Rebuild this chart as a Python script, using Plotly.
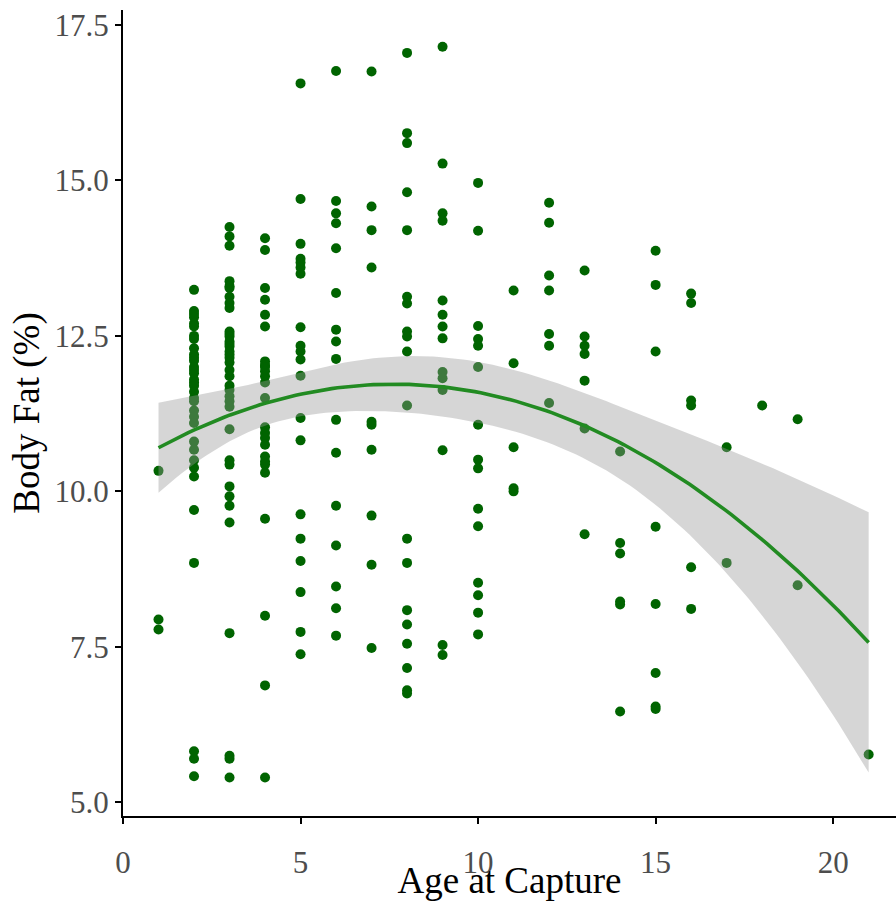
import numpy as np
import plotly.graph_objects as go

# ---- data: age at capture (x) and body fat % (y), grouped by age ----
age_groups = [1, 2, 3, 4, 5, 6, 7, 8, 9, 10, 11, 12, 13, 14, 15, 16, 17, 18, 19, 21]
fat_by_age = [
    [10.33, 7.94, 7.78],
    [13.24, 12.9, 12.85, 12.8, 12.7, 12.65, 12.5, 12.45, 12.3, 12.2, 12.15, 12.1, 12.0,
     11.95, 11.9, 11.8, 11.75, 11.7, 11.6, 11.5, 11.45, 11.3, 11.2, 11.1, 10.8, 10.67,
     10.5, 10.38, 10.24, 9.7, 8.85, 5.82, 5.7, 5.42],
    [14.25, 14.1, 13.95, 13.38, 13.3, 13.27, 13.13, 13.03, 12.95, 12.57, 12.53, 12.49,
     12.41, 12.37, 12.33, 12.25, 12.2, 12.15, 12.07, 11.95, 11.85, 11.7, 11.63, 11.53,
     11.45, 11.36, 11.0, 10.5, 10.43, 10.08, 9.92, 9.77, 9.5, 7.72, 5.75, 5.7, 5.4],
    [14.07, 13.88, 13.27, 13.08, 12.84, 12.65, 12.09, 12.03, 12.0, 11.93, 11.85, 11.75,
     11.5, 11.03, 10.94, 10.86, 10.75, 10.56, 10.48, 10.43, 10.3, 9.56, 8.0, 6.88, 5.4],
    [16.56, 14.7, 13.98, 13.74, 13.68, 13.6, 13.5, 12.64, 12.34, 12.25, 12.12, 11.86,
     11.18, 10.82, 9.63, 9.24, 8.88, 8.38, 7.74, 7.38],
    [16.76, 14.67, 14.47, 14.31, 13.91, 13.19, 12.6, 12.41, 12.13, 11.15, 10.62, 9.77,
     9.13, 8.47, 8.12, 7.68],
    [16.75, 14.58, 14.2, 13.6, 11.12, 11.07, 10.67, 9.61, 8.82, 7.48],
    [17.05, 15.76, 15.6, 14.81, 14.2, 13.13, 13.02, 12.57, 12.49, 12.25, 11.38, 9.24,
     8.85, 8.09, 7.86, 7.55, 7.16, 6.8, 6.75],
    [17.15, 15.27, 14.47, 14.35, 13.07, 12.84, 12.65, 12.46, 11.92, 11.82, 11.63, 10.66,
     7.53, 7.37],
    [14.96, 14.19, 12.66, 12.45, 12.34, 12.0, 11.07, 10.51, 10.37, 9.72, 9.44, 8.53,
     8.33, 8.05, 7.7],
    [13.23, 12.06, 10.71, 10.05, 10.0],
    [14.64, 14.32, 13.47, 13.23, 12.53, 12.34, 11.42],
    [13.55, 12.49, 12.34, 12.21, 11.78, 11.01, 9.31],
    [10.64, 9.17, 9.0, 8.23, 8.18, 6.46],
    [13.87, 13.32, 12.25, 9.43, 8.19, 7.08, 6.54, 6.5],
    [13.18, 13.03, 11.46, 11.38, 8.78, 8.11],
    [10.71, 8.85],
    [11.38],
    [11.16, 8.49],
    [5.77],
]

x_ticks = [0, 5, 10, 15, 20]
y_ticks = [5.0, 7.5, 10.0, 12.5, 15.0, 17.5]
y_tick_labels = ["5.0", "7.5", "10.0", "12.5", "15.0", "17.5"]

# ---- flatten ----
x = np.concatenate([[a] * len(v) for a, v in zip(age_groups, fat_by_age)]).astype(float)
y = np.concatenate(fat_by_age).astype(float)

# ---- quadratic linear model with 95% confidence band (like geom_smooth lm poly 2) ----
X = np.column_stack([np.ones_like(x), x, x ** 2])
beta, *_ = np.linalg.lstsq(X, y, rcond=None)
resid = y - X @ beta
dof = len(y) - 3
s2 = resid @ resid / dof
XtX_inv = np.linalg.inv(X.T @ X)
xg = np.linspace(x.min(), x.max(), 120)
Xg = np.column_stack([np.ones_like(xg), xg, xg ** 2])
fit = Xg @ beta
se = np.sqrt(np.einsum("ij,jk,ik->i", Xg, XtX_inv, Xg) * s2)
tcrit = 1.97
lo, hi = fit - tcrit * se, fit + tcrit * se

fig = go.Figure()
fig.add_trace(go.Scatter(
    x=x, y=y, mode="markers",
    marker=dict(color="#006400", size=10, line=dict(width=0)),
    showlegend=False, hoverinfo="x+y"))
fig.add_trace(go.Scatter(
    x=np.concatenate([xg, xg[::-1]]), y=np.concatenate([hi, lo[::-1]]),
    fill="toself", fillcolor="rgba(153,153,153,0.4)", line=dict(width=0),
    mode="lines", showlegend=False, hoverinfo="skip"))
fig.add_trace(go.Scatter(
    x=xg, y=fit, mode="lines", line=dict(color="#228B22", width=3.6),
    showlegend=False))

font_family = "Liberation Serif, Times New Roman, serif"
fig.update_layout(
    width=896, height=901,
    margin=dict(l=123, r=0, t=10, b=85),
    plot_bgcolor="white", paper_bgcolor="white",
    font=dict(family=font_family, color="black"),
    xaxis=dict(
        range=[0, 21.77], tickvals=x_ticks, ticks="outside", ticklen=6, tickwidth=1.5,
        tickcolor="black", showline=True, linecolor="black", linewidth=2,
        showgrid=False, zeroline=False, ticklabelstandoff=12, automargin=False,
        tickfont=dict(size=31, color="#4D4D4D", family=font_family),
        title=dict(text="Age at Capture", font=dict(size=37, color="black", family=font_family),
                   standoff=4),
    ),
    yaxis=dict(
        range=[4.78, 17.74], tickvals=y_ticks, ticktext=y_tick_labels, ticks="outside",
        ticklen=6, tickwidth=1.5, tickcolor="black", showline=True, linecolor="black",
        linewidth=2, showgrid=False, zeroline=False, automargin=False,
        tickfont=dict(size=31, color="#4D4D4D", family=font_family),
        title=dict(text="Body Fat (%)", font=dict(size=37, color="black", family=font_family),
                   standoff=4),
    ),
)

fig.write_html("out.html")
